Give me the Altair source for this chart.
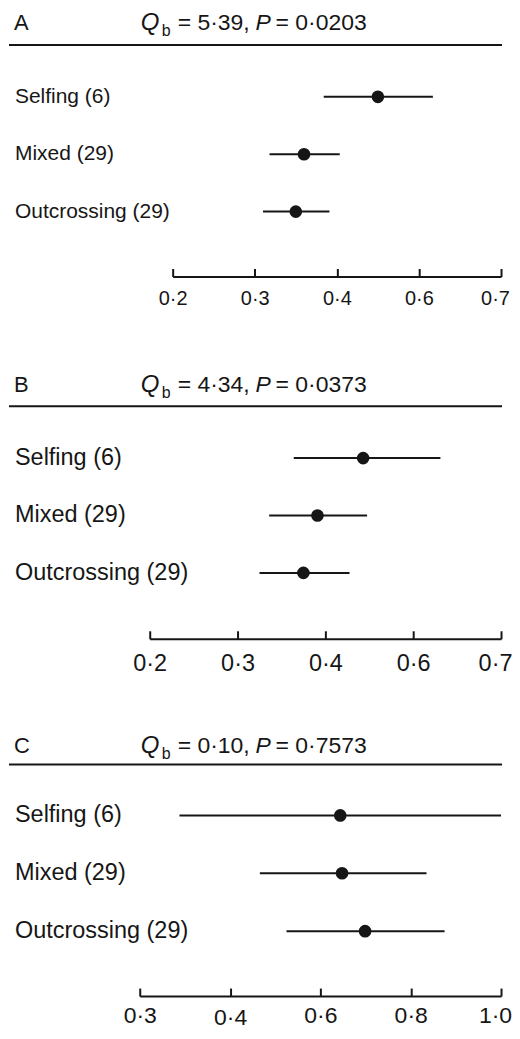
import altair as alt
import pandas as pd

GROUPS = ["Selfing (6)", "Mixed (29)", "Outcrossing (29)"]

A_EST = [0.500, 0.360, 0.350]
A_LO = [0.384, 0.318, 0.310]
A_HI = [0.617, 0.407, 0.391]

B_EST = [0.486, 0.391, 0.375]
B_LO = [0.364, 0.336, 0.325]
B_HI = [0.631, 0.495, 0.455]

C_EST = [0.644, 0.648, 0.699]
C_LO = [0.344, 0.466, 0.525]
C_HI = [1.000, 0.835, 0.875]

AB_TICKS = [0.2, 0.3, 0.4, 0.6, 0.7]
C_TICKS = [0.3, 0.4, 0.6, 0.8, 1.0]

LETTERS = ["A", "B", "C"]
QB = ["5·39", "4·34", "0·10"]
PV = ["0·0203", "0·0373", "0·7573"]

FONT = "Liberation Sans"
INK = "#161616"
W = 494


def panel(i, est, lo, hi, ticks, xrange, lab_fs, tick_fs, height, lab_pad,
          ty, rule_y, rows, low_tick=None):
    df = pd.DataFrame({"group": GROUPS, "est": est, "lo": lo, "hi": hi})
    xscale = alt.Scale(domain=ticks, range=xrange, nice=False, zero=False)
    yscale = alt.Scale(type="point", domain=GROUPS, range=rows, padding=0)
    if low_tick is not None:
        pad = {"condition": {"test": f"datum.value == {low_tick}", "value": lab_pad + 2},
               "value": lab_pad}
    else:
        pad = lab_pad
    last = ticks[-1]
    xaxis = alt.Axis(
        values=ticks,
        labelExpr="replace(format(datum.value, '.1f'), '.', '·')",
        title=None, grid=False,
        domainColor=INK, domainWidth=2,
        tickColor=INK, tickWidth=2, tickSize=alt.ExprRef(expr="-8"),
        labelPadding=pad, labelFontSize=tick_fs, labelFont=FONT,
        labelOffset={"condition": {"test": f"datum.value == {last}", "value": -6}, "value": 0},
        labelColor=INK, labelBaseline="top", labelFlush=False,
    )
    base = alt.Chart(df)
    bars = base.mark_rule(strokeWidth=2, color=INK).encode(
        x=alt.X("lo:Q", scale=xscale, axis=xaxis),
        x2="hi:Q",
        y=alt.Y("group:N", scale=yscale, axis=None),
    )
    dots = base.mark_circle(size=160, opacity=1, color=INK).encode(
        x="est:Q", y="group:N"
    )
    labels = base.mark_text(
        align="left", baseline="middle", fontSize=lab_fs, font=FONT, color=INK
    ).encode(x=alt.value(6), y="group:N", text="group:N")

    tdf = pd.DataFrame({
        "letter": [LETTERS[i]],
        "q": ["Q"], "b": ["b"], "p": ["P"],
        "qtext": [f"= {QB[i]},"],
        "ptext": [f"= {PV[i]}"],
    })
    tb = alt.Chart(tdf)
    tfs = 23

    def t(col, x, y, fs, italic=False):
        kw = dict(align="left", baseline="alphabetic", fontSize=fs, font=FONT, color=INK)
        if italic:
            kw["fontStyle"] = "italic"
        return tb.mark_text(**kw).encode(x=alt.value(x), y=alt.value(y), text=f"{col}:N")

    letter = t("letter", 5, ty, 22)
    q = t("q", 132, ty, 24, True)
    b = t("b", 153, ty + 6, 16)
    qt = t("qtext", 169, ty, tfs)
    p = t("p", 247, ty, tfs, True)
    pt = t("ptext", 267, ty, tfs)
    rule = tb.mark_rule(strokeWidth=2, color=INK).encode(
        x=alt.value(0), x2=alt.value(W), y=alt.value(rule_y))

    return alt.layer(bars, dots, labels, letter, q, b, qt, p, pt, rule).properties(
        width=W, height=height
    )


pa = panel(0, A_EST, A_LO, A_HI, AB_TICKS, [164, 246.25, 328.5, 410.75, 493],
           21, 20, 268, 20.3, 21, 36, [88, 203])
pb = panel(1, B_EST, B_LO, B_HI, AB_TICKS, [141, 229, 317, 405, 493],
           23.5, 23.5, 269, 21, 22, 36, [88, 203])
pc = panel(2, C_EST, C_LO, C_HI, C_TICKS, [131, 221.5, 312, 402.5, 493],
           23.5, 23, 264, 16.5, 20, 32, [83, 199], low_tick=0.4)

chart = alt.vconcat(pa, pb, pc, spacing=94, bounds="flush").configure_view(
    stroke=None
).properties(padding=0)

chart.save("out.html", embed_options={"renderer": "svg", "actions": False})
